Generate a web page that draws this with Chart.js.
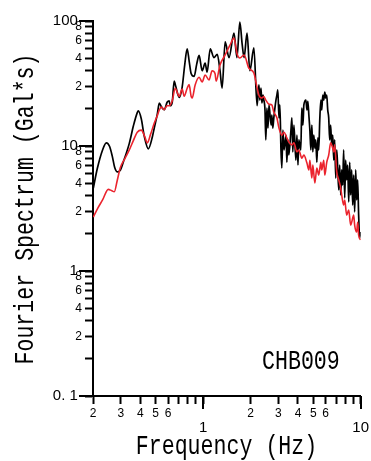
<!DOCTYPE html>
<html>
<head>
<meta charset="utf-8">
<script src="https://cdn.jsdelivr.net/npm/chart.js@4.4.0/dist/chart.umd.min.js"></script>
<style>
  html, body { margin: 0; padding: 0; background: #fff; }
  #wrap { width: 371px; height: 461px; position: relative; }
</style>
</head>
<body>
<div id="wrap"><canvas id="c"></canvas></div>
<script>
// Dữ liệu phổ Fourier
const freqBlack = [0.201,0.213,0.230,0.243,0.255,0.265,0.275,0.286,0.298,0.312,0.340,0.361,0.382,0.388,0.405,0.423,0.449,0.476,0.490,0.512,0.527,0.545,0.566,0.592,0.609,0.618,0.637,0.655,0.670,0.705,0.736,0.765,0.792,0.815,0.839,0.877,0.910,0.943,0.986,1.03,1.06,1.11,1.17,1.23,1.28,1.32,1.38,1.46,1.57,1.64,1.71,1.77,1.82,1.90,1.98,2.10,2.20,
  2.26,2.29,2.33,2.36,2.40,2.43,2.47,2.50,2.54,2.58,2.62,2.70,2.73,2.77,2.81,2.90,2.94,2.98,3.03,3.07,3.12,3.16,3.21,3.26,3.36,3.40,3.45,3.50,3.61,3.66,3.71,3.77,3.88,3.94,4.00,4.05,4.17,4.23,4.30,4.36,
  4.49,4.56,4.62,4.69,4.76,4.83,4.90,4.97,5.04,5.12,5.19,5.27,5.35,5.42,5.50,5.59,5.66,5.75,5.83,5.92,6.00,6.09,6.18,6.27,6.36,6.45,6.55,6.65,6.75,6.84,6.95,7.05,7.15,7.26,7.36,7.47,7.58,7.69,7.80,7.92,8.03,8.15,8.27,8.40,8.52,8.64,8.77,8.90,9.03,9.16,9.30,9.43,9.57,9.71,9.86,10.0];
const ampBlack = [4.6,6.6,9.3,10.6,9.9,8.3,6.7,6.2,6.4,7.5,10.5,14.5,18.5,19.1,16.5,12.0,9.5,11.8,14.0,18.0,22.0,20.5,19.5,22.5,23.0,21.0,22.5,33,30,24.5,29.5,45,60,48,38,36,45,53,40,46,39,60,51,54,40,29,68,51,80,51,98,65,51,80,40,61,21,
  30.8,23.3,29,22.1,25.5,23.3,19.4,11.2,20.1,13.9,21.3,14.7,17.7,13.9,16.8,23.3,25.5,28.1,16.8,21.3,9.3,6.67,13.4,9.3,12.2,7.4,11.2,8.47,13.4,16.8,8.96,14.7,7.7,12.2,7.05,11.2,9.3,20.1,14.7,21.3,
  23.3,19.4,22.8,17.7,13.4,9.3,14.7,8.96,12.2,9.6,11.2,7.4,11.6,9.3,16.1,23.3,19.4,25.5,23.3,27.0,24.2,25.5,19.4,16.8,11.2,14.7,10.2,12.2,7.7,11.2,5.54,9.3,6.67,4.45,7.05,4.06,6.43,4.87,9.3,3.84,7.7,5.35,7.05,3.57,7.4,4.06,6.43,3.37,5.86,2.97,6.43,3.70,5.35,2.80,1.84,2.05];

const freqRed = [0.201,0.215,0.230,0.250,0.262,0.273,0.285,0.298,0.320,0.340,0.360,0.382,0.405,0.425,0.442,0.465,0.490,0.512,0.527,0.545,0.566,0.590,0.609,0.637,0.665,0.705,0.736,0.758,0.792,0.815,0.839,0.852,0.890,0.943,0.986,1.03,1.09,1.14,1.19,1.21,1.28,1.38,1.48,1.57,1.64,1.71,1.82,1.95,2.10,2.18,
  2.26,2.36,2.43,2.50,2.62,2.73,2.81,2.94,3.03,3.16,3.26,3.40,3.50,3.66,3.77,3.94,4.05,4.23,4.36,4.56,4.69,4.76,4.90,4.97,5.12,5.27,5.42,5.59,5.66,5.83,5.92,6.09,6.27,6.45,6.65,6.75,6.84,7.05,7.26,7.47,7.58,7.80,7.92,8.15,8.40,8.64,8.77,9.03,9.16,9.43,9.57,9.71,10.0];
const ampRed = [2.7,3.2,3.7,4.5,4.4,4.3,5.3,6.7,8.0,9.3,11.0,12.9,13.4,12.0,10.6,12.5,15.3,17.5,19.4,20.5,19.5,21.0,21.0,23.0,29.0,25.0,28.5,25,29,31,25,24.2,30.8,35.5,32.5,37,33.7,40,38,33,44.5,53.5,64,73,55,50.6,53.5,42,38.4,31,
  25.5,24.2,24.9,23.3,21.6,21.3,18.7,16.8,13.9,12.2,12.9,11.6,10.8,10.2,10.6,8.96,9.3,8.0,8.47,7.3,6.43,7.7,5.54,7.05,5.06,6.67,5.86,7.4,6.43,7.7,5.86,7.4,8.47,10.6,9.6,8.96,10.2,6.2,5.35,4.61,4.06,3.37,3.70,2.80,3.08,2.33,2.45,2.80,2.33,2.05,2.45,1.94,1.77];

// Vạch chia và nhãn trục
const xTickValues = [0.2,0.3,0.4,0.5,0.6,0.7,0.8,0.9,1,2,3,4,5,6,7,8,9,10];
const xTickLabels = ['2','3','4','5','6','','','',['','1'],'2','3','4','5','6','','','',['','10']];
const yTickValues = [0.1,0.2,0.3,0.4,0.5,0.6,0.7,0.8,0.9,1,2,3,4,5,6,7,8,9,10,20,30,40,50,60,70,80,90,100];
const yTickLabels = ['0. 1 ','','2','','4','','6','','8','1 ','','2','','4','','6','','8','10 ','','2','','4','','6','','8','100 '];

const xTitle = 'Frequency (Hz)';
const yTitle = 'Fourier Spectrum (Gal*s)';
const stationName = 'CHB009';

const labelFont = '"Liberation Sans", Arial, sans-serif';
const titleFont = '"Liberation Mono", "DejaVu Sans Mono", monospace';

function isDecade(v) {
  const l = Math.log10(v);
  return Math.abs(l - Math.round(l)) < 1e-6;
}

function tickFont(ctx) {
  const v = ctx.tick ? ctx.tick.value : 1;
  return isDecade(v)
    ? { family: labelFont, size: 15, lineHeight: 0.95 }
    : { family: labelFont, size: 12, lineHeight: 1.2 };
}

// Vẽ vạch chính dài hơn, tiêu đề trục và tên trạm
const extrasPlugin = {
  id: 'extras',
  afterDraw(chart) {
    const ctx = chart.ctx;
    const area = chart.chartArea;
    const xs = chart.scales.x;
    const ys = chart.scales.y;
    ctx.save();
    ctx.strokeStyle = '#000';
    ctx.lineWidth = 2;
    yTickValues.filter(isDecade).forEach(v => {
      const py = Math.round(ys.getPixelForValue(v));
      ctx.beginPath();
      ctx.moveTo(area.left - 14, py);
      ctx.lineTo(area.left, py);
      ctx.stroke();
    });
    xTickValues.filter(isDecade).forEach(v => {
      const px = Math.round(xs.getPixelForValue(v));
      ctx.beginPath();
      ctx.moveTo(px, area.bottom);
      ctx.lineTo(px, area.bottom + 13);
      ctx.stroke();
    });

    ctx.fillStyle = '#000';
    ctx.font = '27px ' + titleFont;
    ctx.textBaseline = 'alphabetic';

    // tiêu đề trục x
    ctx.save();
    ctx.translate(226.5, 454);
    ctx.scale(0.8, 1);
    ctx.textAlign = 'center';
    ctx.fillText(xTitle, 0, 0);
    ctx.restore();

    // tiêu đề trục y
    ctx.save();
    ctx.translate(33, 209);
    ctx.rotate(-Math.PI / 2);
    ctx.scale(0.8, 1);
    ctx.textAlign = 'center';
    ctx.fillText(yTitle, 0, 0);
    ctx.restore();

    // tên trạm
    ctx.save();
    ctx.translate(262, 369);
    ctx.scale(0.8, 1);
    ctx.textAlign = 'left';
    ctx.fillText(stationName, 0, 0);
    ctx.restore();

    ctx.restore();
  }
};

const toPoints = (fs, as) => fs.map((f, i) => ({ x: f, y: as[i] }));

new Chart(document.getElementById('c'), {
  type: 'line',
  data: {
    datasets: [
      {
        label: 'black',
        data: toPoints(freqBlack, ampBlack),
        borderColor: '#000',
        borderWidth: 1.7,
        pointRadius: 0,
        cubicInterpolationMode: 'monotone',
        order: 1
      },
      {
        label: 'red',
        data: toPoints(freqRed, ampRed),
        borderColor: 'rgb(235,35,45)',
        borderWidth: 1.6,
        pointRadius: 0,
        cubicInterpolationMode: 'monotone',
        order: 0
      }
    ]
  },
  options: {
    responsive: true,
    maintainAspectRatio: false,
    animation: false,
    devicePixelRatio: 1,
    layout: { padding: { left: 0, right: 7, top: 21, bottom: 0 } },
    plugins: { legend: { display: false }, tooltip: { enabled: false } },
    scales: {
      x: {
        type: 'logarithmic',
        position: 'bottom',
        min: 0.2,
        max: 10,
        border: { display: true, color: '#000', width: 2 },
        grid: { drawOnChartArea: false, drawTicks: true, tickLength: 8, tickWidth: 2, tickColor: '#000' },
        ticks: {
          autoSkip: false,
          maxRotation: 0,
          padding: 2,
          color: '#000',
          font: tickFont,
          callback: (v, i) => xTickLabels[i]
        },
        afterBuildTicks: s => { s.ticks = xTickValues.map(v => ({ value: v })); },
        afterFit: s => { s.height = 65; }
      },
      y: {
        type: 'logarithmic',
        position: 'left',
        min: 0.1,
        max: 100,
        border: { display: true, color: '#000', width: 2 },
        grid: { drawOnChartArea: false, drawTicks: true, tickLength: 8, tickWidth: 2, tickColor: '#000' },
        ticks: {
          autoSkip: false,
          padding: 3,
          color: '#000',
          font: tickFont,
          callback: (v, i) => yTickLabels[i]
        },
        afterBuildTicks: s => { s.ticks = yTickValues.map(v => ({ value: v })); },
        afterFit: s => { s.width = 93; }
      }
    }
  },
  plugins: [extrasPlugin]
});
</script>
</body>
</html>
